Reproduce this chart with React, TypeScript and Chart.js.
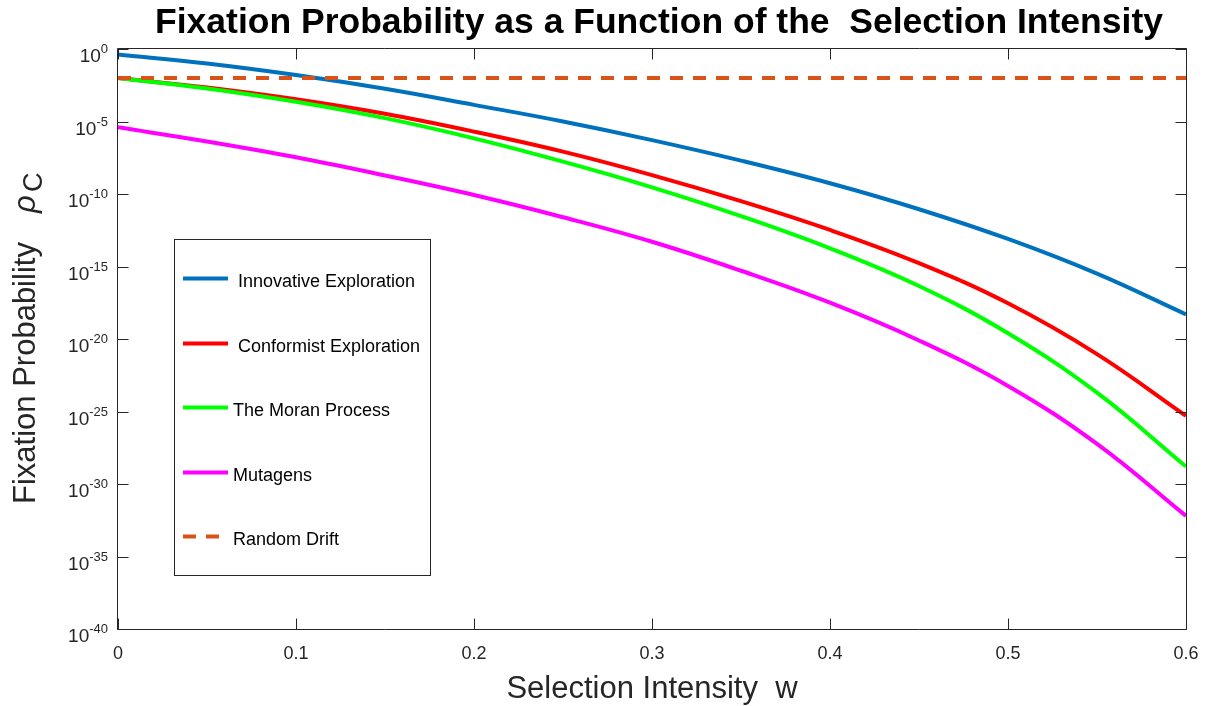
import React, { useEffect, useRef } from "react";
import { Chart, registerables } from "chart.js";

Chart.register(...registerables);

// ---- Data ----
const W_VALUES = [0, 0.05, 0.1, 0.15, 0.2, 0.25, 0.3, 0.35, 0.4, 0.45, 0.5, 0.55, 0.6];

const INNOVATIVE = [0.42, 0.1, 1.6e-2, 1.8e-3, 1.4e-4, 1.0e-5, 5.2e-7, 2.0e-8, 5.5e-10, 8.9e-12, 7.9e-14, 3.2e-16, 5.0e-19];
const CONFORMIST = [1e-2, 2.2e-3, 3.4e-4, 3.4e-5, 2.0e-6, 8.3e-8, 2.0e-9, 3.2e-11, 3.3e-13, 1.7e-15, 2.9e-18, 9.1e-22, 5.0e-26];
const MORAN = [1e-2, 1.9e-3, 2.3e-4, 1.7e-5, 6.9e-7, 1.7e-8, 2.9e-10, 3.0e-12, 1.8e-14, 4.5e-17, 2.5e-20, 2.0e-24, 1.6e-29];
const MUTAGENS = [4.0e-6, 4.2e-7, 3.4e-8, 1.9e-9, 8.5e-11, 2.5e-12, 5.1e-14, 5.1e-16, 3.2e-18, 7.9e-21, 5.8e-24, 5.8e-28, 6.3e-33];
const DRIFT_W = [0, 0.6];
const DRIFT = [1e-2, 1e-2];

const SERIES_NAMES = [
  "Innovative Exploration",
  "Conformist Exploration",
  "The Moran Process",
  "Mutagens",
  "Random Drift",
];
const SERIES_COLORS = ["#0072BD", "#FF0000", "#00FF00", "#FF00FF", "#D95319"];

const X_TICKS = [0, 0.1, 0.2, 0.3, 0.4, 0.5, 0.6];
const X_TICK_LABELS = ["0", "0.1", "0.2", "0.3", "0.4", "0.5", "0.6"];
const Y_TICK_EXPONENTS = [0, -5, -10, -15, -20, -25, -30, -35, -40];

const TITLE = "Fixation Probability as a Function of the  Selection Intensity";
const X_TITLE = "Selection Intensity  w";
const Y_TITLE = "Fixation Probability  ";

const FONT = '"Liberation Sans", Arial, Helvetica, sans-serif';
const AXIS_COLOR = "#262626";

const toPoints = (xs: number[], ys: number[]) => xs.map((x, i) => ({ x, y: ys[i] }));

const decorPlugin = {
  id: "decor",
  afterDatasetsDraw(chart: any) {
    const ctx: CanvasRenderingContext2D = chart.ctx;
    const { left, right, top, bottom } = chart.chartArea;
    const xs = chart.scales.x;
    const ys = chart.scales.y;
    ctx.save();

    // axes box
    ctx.strokeStyle = AXIS_COLOR;
    ctx.lineWidth = 1;
    const L = Math.round(left) - 0.5;
    const R = Math.round(right) + 0.5;
    const T = Math.round(top) - 0.5;
    const B = Math.round(bottom) + 0.5;
    ctx.beginPath();
    ctx.rect(L, T, R - L, B - T);
    ctx.stroke();

    // ticks (inward, on all four sides)
    const TL = 11;
    ctx.beginPath();
    X_TICKS.forEach((v) => {
      const px = Math.round(xs.getPixelForValue(v)) + 0.5;
      ctx.moveTo(px, B);
      ctx.lineTo(px, B - TL);
      ctx.moveTo(px, T);
      ctx.lineTo(px, T + TL);
    });
    Y_TICK_EXPONENTS.forEach((e) => {
      const py = Math.round(ys.getPixelForValue(Math.pow(10, e))) + 0.5;
      ctx.moveTo(L, py);
      ctx.lineTo(L + TL, py);
      ctx.moveTo(R, py);
      ctx.lineTo(R - TL, py);
    });
    ctx.stroke();

    // x tick labels
    ctx.fillStyle = AXIS_COLOR;
    ctx.font = `18px ${FONT}`;
    ctx.textAlign = "center";
    ctx.textBaseline = "alphabetic";
    X_TICKS.forEach((v, i) => {
      const px = xs.getPixelForValue(v);
      ctx.fillText(X_TICK_LABELS[i], px, bottom + 30);
    });

    // y tick labels: 10^e
    ctx.textAlign = "left";
    Y_TICK_EXPONENTS.forEach((e) => {
      const py = ys.getPixelForValue(Math.pow(10, e));
      const sup = e === 0 ? "0" : "-" + String(-e);
      ctx.font = `19px ${FONT}`;
      const mw = ctx.measureText("10").width;
      ctx.font = `13px ${FONT}`;
      const sw = ctx.measureText(sup).width;
      const x0 = left - 10 - sw - mw;
      ctx.font = `19px ${FONT}`;
      ctx.fillText("10", x0, py + 13);
      ctx.font = `13px ${FONT}`;
      ctx.fillText(sup, x0 + mw, py + 4);
    });

    // title
    ctx.font = `bold 35.5px ${FONT}`;
    ctx.textAlign = "center";
    ctx.fillStyle = "#000000";
    ctx.fillText(TITLE, 659, 33);

    // x axis title
    ctx.fillStyle = AXIS_COLOR;
    ctx.font = `31px ${FONT}`;
    ctx.fillText(X_TITLE, (left + right) / 2, 698);

    // y axis title (rotated)
    ctx.save();
    ctx.translate(35, 504);
    ctx.rotate(-Math.PI / 2);
    ctx.textAlign = "left";
    ctx.font = `31px ${FONT}`;
    ctx.fillText(Y_TITLE, 0, 0);
    let off = ctx.measureText(Y_TITLE).width + 12;
    ctx.font = `italic 31px ${FONT}`;
    ctx.fillText("ρ", off, 0);
    off += ctx.measureText("ρ").width + 3;
    ctx.font = `27px ${FONT}`;
    ctx.fillText("C", off, 7);
    ctx.restore();

    // legend
    const lx = 174.5, ly = 239.5, lw = 256, lh = 336;
    ctx.fillStyle = "#ffffff";
    ctx.fillRect(lx, ly, lw, lh);
    ctx.strokeStyle = AXIS_COLOR;
    ctx.lineWidth = 1;
    ctx.strokeRect(lx, ly, lw, lh);
    const rowY = [278.5, 343.5, 407.5, 472.5, 536.5];
    const textX = [238, 238, 233, 233, 233];
    SERIES_NAMES.forEach((name, i) => {
      ctx.strokeStyle = SERIES_COLORS[i];
      ctx.lineWidth = 4;
      ctx.setLineDash(i === 4 ? [13, 10] : []);
      ctx.beginPath();
      ctx.moveTo(183, rowY[i]);
      ctx.lineTo(228, rowY[i]);
      ctx.stroke();
      ctx.setLineDash([]);
      ctx.fillStyle = "#000000";
      ctx.font = `18px ${FONT}`;
      ctx.textAlign = "left";
      ctx.fillText(name, textX[i], rowY[i] + 8);
    });

    ctx.restore();
  },
};

export default function App() {
  const canvasRef = useRef<HTMLCanvasElement | null>(null);

  useEffect(() => {
    if (!canvasRef.current) return;
    const seriesData = [INNOVATIVE, CONFORMIST, MORAN, MUTAGENS];
    const orders = [5, 4, 3, 2];
    const datasets: any[] = seriesData.map((vals, i) => ({
      label: SERIES_NAMES[i],
      data: toPoints(W_VALUES, vals),
      borderColor: SERIES_COLORS[i],
      backgroundColor: SERIES_COLORS[i],
      borderWidth: 4,
      pointRadius: 0,
      tension: 0.4,
      fill: false,
      order: orders[i],
    }));
    datasets.push({
      label: SERIES_NAMES[4],
      data: toPoints(DRIFT_W, DRIFT),
      borderColor: SERIES_COLORS[4],
      backgroundColor: SERIES_COLORS[4],
      borderWidth: 4,
      borderDash: [13, 10],
      pointRadius: 0,
      fill: false,
      order: 1,
    });

    const chart = new Chart(canvasRef.current, {
      type: "line",
      data: { datasets },
      options: {
        animation: false,
        responsive: true,
        maintainAspectRatio: false,
        layout: { padding: { left: 118, right: 30, top: 49, bottom: 77 } },
        plugins: {
          legend: { display: false },
          title: { display: false },
          tooltip: { enabled: false },
        },
        scales: {
          x: { type: "linear", min: 0, max: 0.6, display: false },
          y: { type: "logarithmic", min: 1e-40, max: 1, display: false },
        },
      },
      plugins: [decorPlugin],
    });
    return () => chart.destroy();
  }, []);

  return (
    <div style={{ position: "absolute", left: 0, top: 0, width: 1216, height: 706, background: "#ffffff" }}>
      <canvas ref={canvasRef} />
    </div>
  );
}
